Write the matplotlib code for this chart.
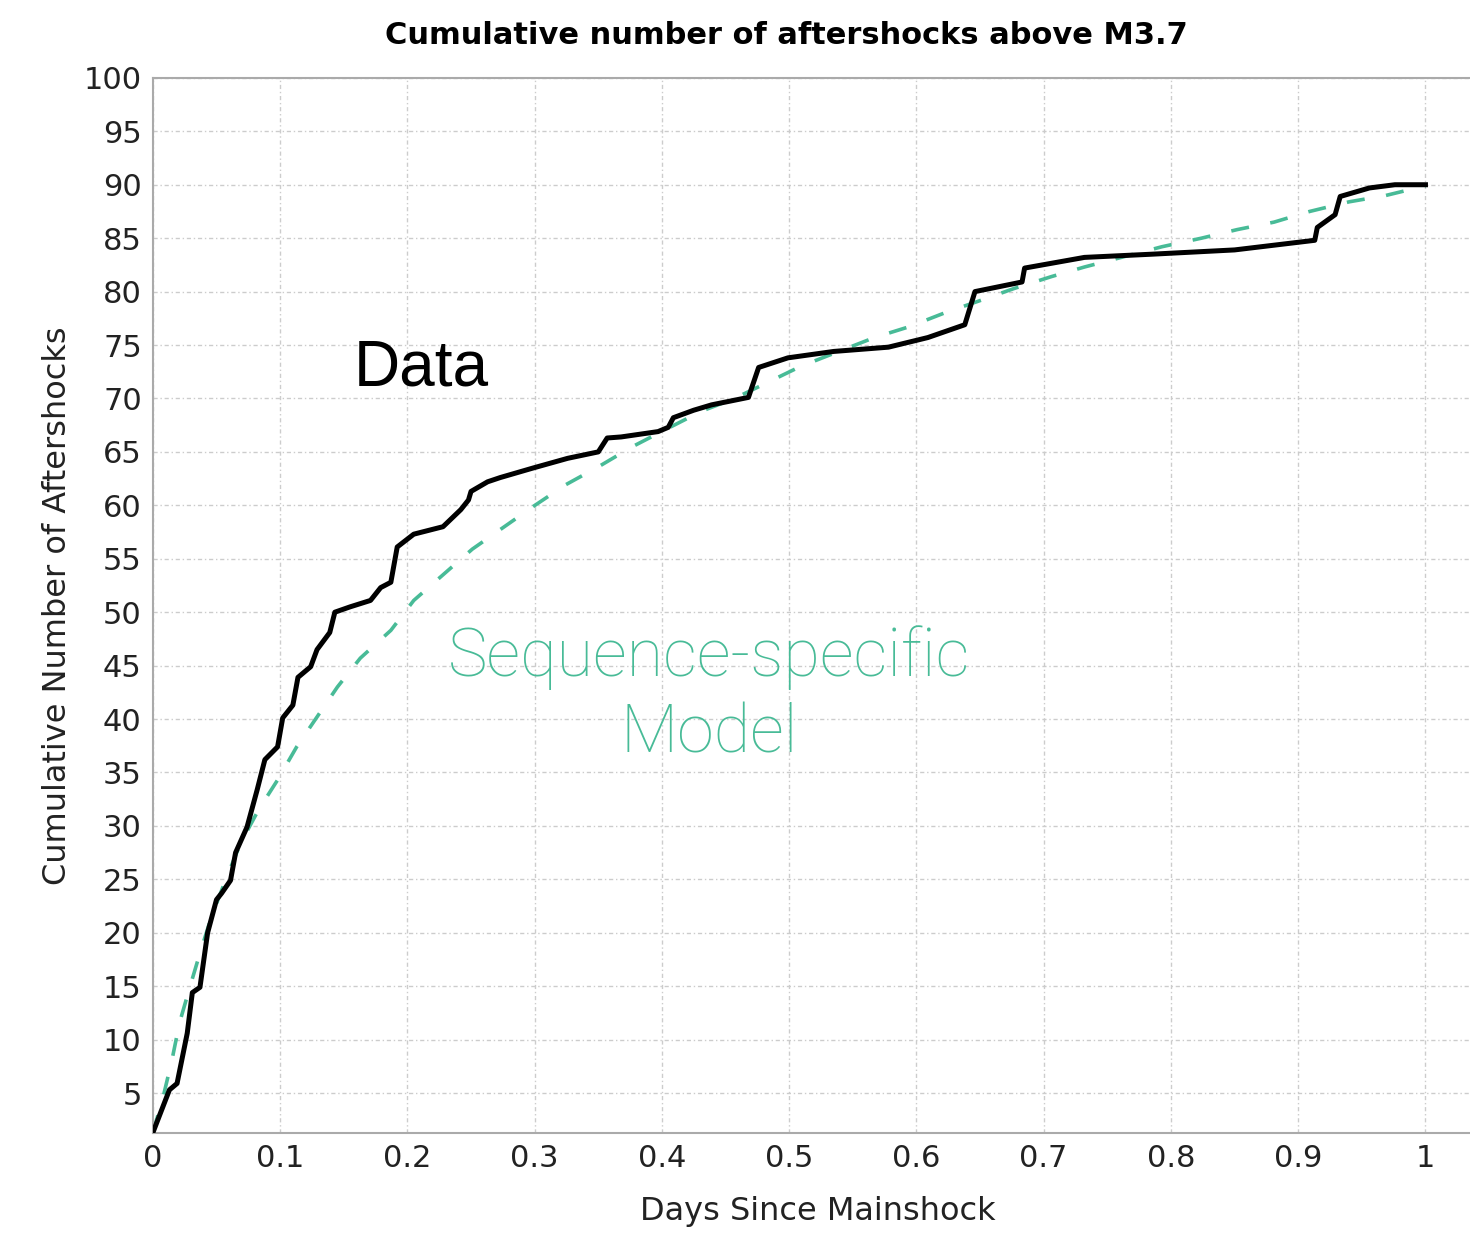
import matplotlib
matplotlib.use("Agg")
import matplotlib.pyplot as plt

# observed cumulative count (days, count)
data_days = [0.0, 0.013, 0.019, 0.027, 0.031, 0.037, 0.043, 0.05, 0.054, 0.061,
             0.065, 0.074, 0.082, 0.088, 0.098, 0.102, 0.11, 0.114, 0.124, 0.129,
             0.139, 0.143, 0.155, 0.171, 0.179, 0.187, 0.192, 0.205, 0.228, 0.242,
             0.248, 0.25, 0.263, 0.273, 0.299, 0.326, 0.35, 0.357, 0.368, 0.397,
             0.405, 0.409, 0.425, 0.439, 0.468, 0.476, 0.499, 0.535, 0.578, 0.609,
             0.638, 0.646, 0.683, 0.685, 0.732, 0.785, 0.85, 0.885, 0.913, 0.915,
             0.929, 0.933, 0.956, 0.976, 1.0]
data_count = [1.3, 5.3, 5.9, 10.6, 14.4, 14.9, 20.0, 23.1, 23.7, 24.9,
              27.5, 29.9, 33.4, 36.2, 37.4, 40.1, 41.3, 43.9, 44.9, 46.5,
              48.1, 50.0, 50.5, 51.1, 52.3, 52.8, 56.1, 57.3, 58.0, 59.6,
              60.5, 61.3, 62.2, 62.6, 63.5, 64.4, 65.0, 66.3, 66.4, 66.9,
              67.3, 68.2, 68.9, 69.4, 70.1, 72.9, 73.8, 74.4, 74.8, 75.7,
              76.9, 80.0, 80.9, 82.2, 83.2, 83.5, 83.9, 84.4, 84.8, 86.0,
              87.2, 88.9, 89.7, 90.0, 90.0]

# sequence-specific model
model_days = [0.0, 0.008, 0.015, 0.021, 0.029, 0.037, 0.046, 0.058, 0.069, 0.083,
              0.098, 0.113, 0.129, 0.145, 0.163, 0.187, 0.205, 0.228, 0.251, 0.275,
              0.299, 0.324, 0.35, 0.377, 0.403, 0.431, 0.457, 0.483, 0.509, 0.539,
              0.567, 0.594, 0.622, 0.651, 0.677, 0.706, 0.732, 0.761, 0.793, 0.824,
              0.852, 0.881, 0.909, 0.94, 0.969, 1.0]
model_count = [1.3, 4.6, 8.1, 11.6, 14.9, 18.1, 21.5, 25.2, 28.4, 31.5,
               34.3, 37.4, 40.2, 43.0, 45.7, 48.3, 51.1, 53.5, 55.9, 57.9,
               59.9, 61.9, 63.6, 65.5, 67.1, 68.8, 70.0, 71.5, 73.0, 74.4,
               75.7, 76.7, 78.0, 79.2, 80.3, 81.4, 82.3, 83.2, 84.2, 85.0,
               85.8, 86.5, 87.5, 88.4, 89.0, 89.9]

x_ticks = [0, 0.1, 0.2, 0.3, 0.4, 0.5, 0.6, 0.7, 0.8, 0.9, 1.0]
x_labels = ['0', '0.1', '0.2', '0.3', '0.4', '0.5', '0.6', '0.7', '0.8', '0.9', '1']
y_ticks = list(range(5, 101, 5))

green = '#48BB97'

fig = plt.figure(figsize=(14.7, 12.36), dpi=100)
ax = fig.add_axes([0.104, 0.0833, 0.896, 0.8537])

ax.plot(model_days, model_count, color=green, lw=2.6, dashes=(5, 6), zorder=2)
ax.plot(data_days, data_count, color='black', lw=3.6, zorder=3)

ax.set_xlim(0, 1.035)
ax.set_ylim(1.26, 100)
ax.set_xticks(x_ticks)
ax.set_xticklabels(x_labels)
ax.set_yticks(y_ticks)
ax.tick_params(length=0, labelsize=22, pad=8, colors='#222222')

ax.grid(True, color='#cccccc', lw=1, dashes=(3, 2, 1, 2))
for s in ['left', 'bottom', 'top']:
    ax.spines[s].set_color('#aaaaaa')
    ax.spines[s].set_linewidth(1.5)
ax.spines['right'].set_visible(False)

fig.text(786 / 1470, 0.971, 'Cumulative number of aftershocks above M3.7',
         fontsize=22, fontweight='bold', ha='center', va='center')
ax.set_xlabel('Days Since Mainshock', fontsize=23, labelpad=10, color='#222222')
ax.xaxis.set_label_coords(0.505, -0.06)
ax.set_ylabel('Cumulative Number of Aftershocks', fontsize=23, labelpad=8, color='#222222')

ax.text(0.158, 71.2, 'Data', fontsize=46, family='Liberation Sans', color='black')
ax.text(0.437, 42.2, 'Sequence-specific\nModel', fontsize=48, family='Roboto',
        fontweight='light', color=green, ha='center', va='center', linespacing=1.25)

fig.savefig('out.png', dpi=100)
